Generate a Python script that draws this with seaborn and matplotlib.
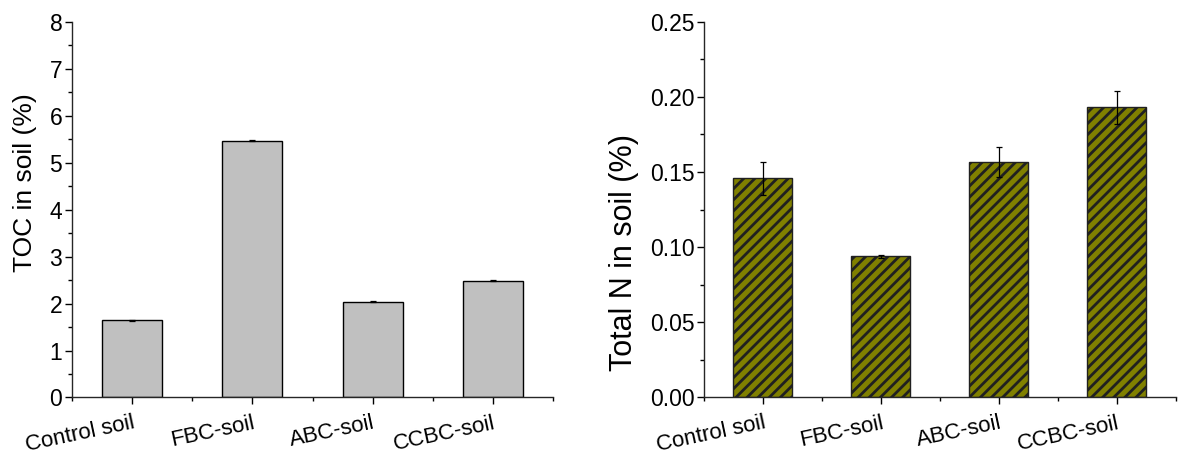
import numpy as np
import pandas as pd
import matplotlib
matplotlib.use("Agg")
import matplotlib.pyplot as plt
from matplotlib.ticker import MultipleLocator, FormatStrFormatter, FixedLocator
import seaborn as sns

# Soil treatments
categories = ["Control soil", "FBC-soil", "ABC-soil", "CCBC-soil"]

# Total organic carbon (%) with standard deviation
toc_mean = [1.64, 5.47, 2.04, 2.49]
toc_err = [0.015, 0.012, 0.015, 0.015]

# Total nitrogen (%) with standard deviation
tn_mean = [0.146, 0.094, 0.157, 0.193]
tn_err = [0.011, 0.001, 0.010, 0.011]

sns.set_theme(style="ticks")
plt.rcParams["font.family"] = ["Liberation Sans", "DejaVu Sans"]
plt.rcParams["hatch.color"] = "#3c3c3c"
plt.rcParams["hatch.linewidth"] = 2.0
plt.rcParams["axes.linewidth"] = 1.0
plt.rcParams["text.color"] = "black"
plt.rcParams["axes.labelcolor"] = "black"

fig = plt.figure(figsize=(12.03, 4.54), dpi=100)
ax1 = fig.add_axes([0.0599, 0.1245, 0.3998, 0.8275])
ax2 = fig.add_axes([0.5852, 0.1245, 0.3923, 0.8275])

df_toc = pd.DataFrame({"treatment": categories, "value": toc_mean})
df_tn = pd.DataFrame({"treatment": categories, "value": tn_mean})

sns.barplot(data=df_toc, x="treatment", y="value", ax=ax1, color="#c0c0c0",
            width=0.5, edgecolor="black", linewidth=1.0, saturation=1)
sns.barplot(data=df_tn, x="treatment", y="value", ax=ax2, color="#808000",
            width=0.5, edgecolor="#202020", linewidth=1.0, saturation=1)
for p in ax2.patches:
    p.set_hatch("///")

xpos = np.arange(len(categories))
ax1.errorbar(xpos, toc_mean, yerr=toc_err, fmt="none", ecolor="black",
             elinewidth=0.9, capsize=2.5, capthick=0.9)
ax2.errorbar(xpos, tn_mean, yerr=tn_err, fmt="none", ecolor="black",
             elinewidth=0.9, capsize=2.5, capthick=0.9)


def style_axis(ax, ymax, major, fmt, ylabel, label_size, label_xy):
    ax.set_xlim(-0.5, 3.5)
    ax.set_ylim(0, ymax)
    ax.yaxis.set_major_locator(MultipleLocator(major))
    ax.yaxis.set_minor_locator(MultipleLocator(major / 2))
    ax.yaxis.set_major_formatter(FormatStrFormatter(fmt))
    ax.set_xticks(xpos, categories, rotation=12, ha="right", va="top",
                  rotation_mode="anchor")
    ax.xaxis.set_minor_locator(FixedLocator([-0.5, 0.5, 1.5, 2.5, 3.5]))
    ax.set_xlabel("")
    ax.set_ylabel(ylabel, fontsize=label_size, color="black")
    ax.yaxis.set_label_coords(*label_xy)
    sns.despine(ax=ax)
    ax.tick_params(axis="both", which="major", direction="out", length=5,
                   width=1.0, colors="black", labelsize=16.5, pad=2)
    ax.tick_params(axis="both", which="minor", direction="out", length=3,
                   width=1.0, colors="black")
    ax.tick_params(axis="x", which="major", labelsize=16, pad=6)
    ax.set_facecolor("white")


style_axis(ax1, 8, 1, "%d", "TOC in soil (%)", 19, (-0.072, 0.573))
style_axis(ax2, 0.25, 0.05, "%.2f", "Total N in soil (%)", 22, (-0.138, 0.387))

fig.savefig("out.png", dpi=100, facecolor="white")
